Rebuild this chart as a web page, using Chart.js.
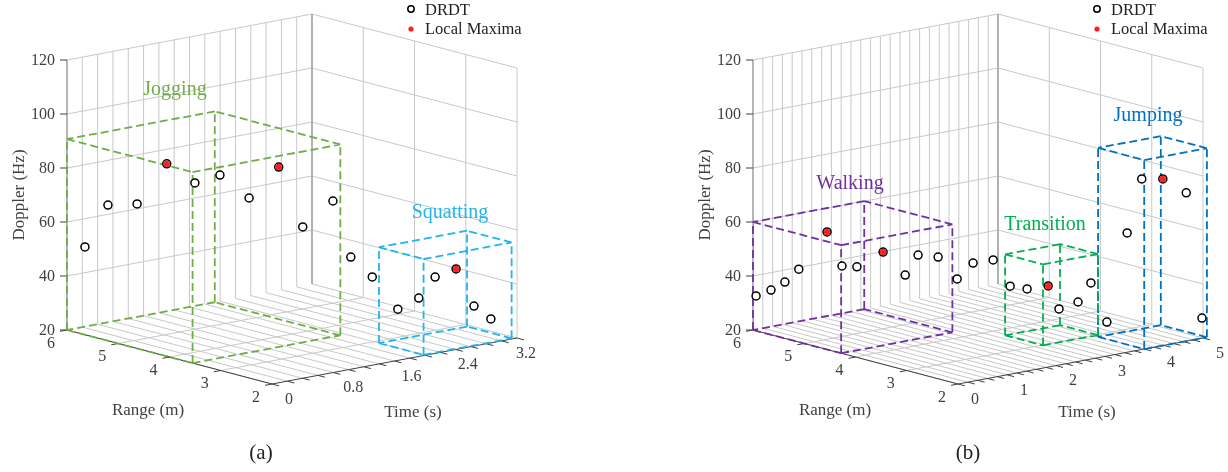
<!DOCTYPE html>
<html>
<head>
<meta charset="utf-8">
<title>DRDT</title>
<script src="https://cdn.jsdelivr.net/npm/chart.js@4"></script>
<style>
  html, body { margin: 0; padding: 0; background: #fff; }
  canvas { display: block; }
</style>
</head>
<body>
<canvas id="chart" width="1228" height="472"></canvas>
<script>
// panel (a)
const timeA = [0, 0.2, 0.4, 0.6, 0.8, 1.0, 1.2, 1.4, 1.6, 1.8, 2.0, 2.2, 2.4, 2.6, 2.8, 3.0, 3.1, 3.2]
const rangeA = [5.65, 5.5, 5.23, 4.95, 4.7, 4.51, 4.24, 3.96, 3.79, 3.5, 3.45, 3.33, 3.13, 3.02, 3.0, 2.89, 2.69, 2.51]
const dopplerA = [52.5, 67.7, 68.4, 83.6, 76.7, 79.5, 71.3, 83.1, 60.7, 70.7, 49.1, 41.3, 29.3, 32.9, 39.7, 42.2, 28.9, 24.5]
const maximaA = [3, 7, 15]
const timeTicksA = ['0', '0.8', '1.6', '2.4', '3.2']

// panel (b)
const timeB = [0, 0.2, 0.4, 0.6, 0.8, 1.0, 1.2, 1.4, 1.6, 1.8, 2.0, 2.2, 2.4, 2.6, 2.8, 3.0, 3.2, 3.4, 3.6, 3.8, 4.0, 4.1, 4.2, 4.4, 4.7, 5.0]
const rangeB = [5.94, 5.84, 5.76, 5.68, 5.32, 5.22, 5.12, 4.8, 4.56, 4.5, 4.3, 4.12, 4.0, 3.8, 3.66, 3.52, 3.3, 3.28, 3.1, 3.04, 2.92, 2.62, 2.43, 2.21, 2.04, 2.02]
const dopplerB = [32.9, 34.9, 37.6, 42.1, 57, 44.2, 43.7, 50.1, 42.1, 49.1, 48.7, 40.8, 46.6, 48.1, 38.4, 37.4, 38.9, 29.8, 32.6, 39.3, 24.7, 58.9, 79.5, 79.9, 74.6, 27.3]
const maximaB = [4, 7, 16, 23]
const timeTicksB = ['0', '1', '2', '3', '4', '5']

const dopplerTicks = [20, 40, 60, 80, 100, 120]
const rangeTicks = [6, 5, 4, 3, 2]

// activity boxes: [t0, t1, r0, r1, topDoppler]
const joggingBox = [0, 1.93, 6, 3.55, 90.7]
const squattingBox = [2.0, 3.15, 2.9, 2.03, 55.5]
const walkingBox = [0, 2.27, 6, 4.28, 60]
const transitionBox = [2.76, 3.88, 3.72, 2.98, 50]
const jumpingBox = [3.8, 5.08, 2.9, 2.0, 90]

const GRID = '#c8c8c8'
const TEXT = '#404040'
const SERIF = '"Liberation Serif", "Times New Roman", serif'

// hand fitted view of the matlab box, in canvas px
const view = { timeDx: 245, timeDy: -46, rangeDx: 205, rangeDy: 54, hz: 2.7, y0: 330 }

const panelA = {
    x0: 67, tMax: 3.2, tStep: 0.2, tickEvery: 4, tickLabelDx: [17, 20, 17, 12, 9],
    time: timeA, range: rangeA, doppler: dopplerA, maxima: maximaA, timeTicks: timeTicksA,
    rangeTitleX: 148, timeTitleX: 413, doppTitleX: 18, tag: '(a)', tagX: 261, legendX: 411,
    boxes: [
        { box: joggingBox, color: '#70ad47', name: 'Jogging', x: 175, y: 88 },
        { box: squattingBox, color: '#1fb4f0', name: 'Squatting', x: 450, y: 211 }
    ]
}
const panelB = {
    x0: 753, tMax: 5, tStep: 0.2, tickEvery: 5, tickLabelDx: [17, 17, 17, 17, 17, 17],
    time: timeB, range: rangeB, doppler: dopplerB, maxima: maximaB, timeTicks: timeTicksB,
    rangeTitleX: 835, timeTitleX: 1087, doppTitleX: 704, tag: '(b)', tagX: 968, legendX: 1097,
    boxes: [
        { box: walkingBox, color: '#7030a0', name: 'Walking', x: 850, y: 182 },
        { box: transitionBox, color: '#00b050', name: 'Transition', x: 1045, y: 223 },
        { box: jumpingBox, color: '#0070c0', name: 'Jumping', x: 1148, y: 114 }
    ]
}

const project = (p, t, r, z) => {
    const tf = t / p.tMax
    const rf = (6 - r) / 4
    return {
        x: p.x0 + view.timeDx * tf + view.rangeDx * rf,
        y: view.y0 + view.timeDy * tf + view.rangeDy * rf - view.hz * (z - 20)
    }
}

const GAP = { x: NaN, y: NaN }

const linesDataset = (segments, color, width, dash) => ({
    type: 'line',
    data: segments.flatMap(s => [s[0], s[1], GAP]),
    borderColor: color,
    borderWidth: width,
    borderDash: dash || [],
    pointRadius: 0,
    tension: 0,
    spanGaps: false,
    order: 10
})

const timeSteps = p => {
    const n = Math.round(p.tMax / p.tStep)
    return Array.from({ length: n + 1 }, (_, i) => i * p.tStep)
}

const gridSegments = p => {
    const segs = []
    timeSteps(p).forEach(t => {
        segs.push([project(p, t, 6, 20), project(p, t, 6, 120)])
        segs.push([project(p, t, 6, 20), project(p, t, 2, 20)])
    })
    rangeTicks.forEach(r => {
        segs.push([project(p, p.tMax, r, 20), project(p, p.tMax, r, 120)])
        if (r !== 6 && r !== 2) segs.push([project(p, 0, r, 20), project(p, p.tMax, r, 20)])
    })
    dopplerTicks.slice(1).forEach(z => {
        segs.push([project(p, 0, 6, z), project(p, p.tMax, 6, z)])
        segs.push([project(p, p.tMax, 6, z), project(p, p.tMax, 2, z)])
    })
    return segs
}

const axisSegments = p => {
    const segs = [
        [project(p, 0, 6, 20), project(p, 0, 2, 20)],
        [project(p, 0, 2, 20), project(p, p.tMax, 2, 20)]
    ]
    const dtLen = 7 / view.timeDx * p.tMax
    const drLen = 7 / view.rangeDx * 4
    rangeTicks.forEach(r => segs.push([project(p, 0, r, 20), project(p, -dtLen, r, 20)]))
    timeSteps(p).forEach(t => segs.push([project(p, t, 2, 20), project(p, t, 2 - drLen, 20)]))
    dopplerTicks.forEach(z => {
        const a = project(p, 0, 6, z)
        segs.push([a, { x: a.x - 7, y: a.y }])
    })
    return segs
}

const boxSegments = (p, b) => {
    const [t0, t1, r0, r1, top] = b
    const corners = [[t0, r0], [t0, r1], [t1, r1], [t1, r0]]
    const segs = []
    corners.forEach((c, i) => {
        const n = corners[(i + 1) % 4]
        segs.push([project(p, c[0], c[1], 20), project(p, n[0], n[1], 20)])
        segs.push([project(p, c[0], c[1], top), project(p, n[0], n[1], top)])
        segs.push([project(p, c[0], c[1], 20), project(p, c[0], c[1], top)])
    })
    return segs
}

const pointsOf = p => p.time.map((t, i) => project(p, t, p.range[i], p.doppler[i]))

const panelDatasets = p => {
    const pts = pointsOf(p)
    return [
        {
            type: 'scatter',
            data: p.maxima.map(i => pts[i]),
            pointRadius: 3.2,
            pointBorderWidth: 0,
            pointBackgroundColor: '#ff1f1f',
            order: 0
        },
        {
            type: 'scatter',
            data: pts,
            pointRadius: 4,
            pointBorderWidth: 1.5,
            pointBorderColor: '#000',
            pointBackgroundColor: '#fff',
            order: 1
        },
        ...p.boxes.map(b => ({ ...linesDataset(boxSegments(p, b.box), b.color, 1.8, [8, 4]), order: 2 })),
        { ...linesDataset(axisSegments(p), '#404040', 1), order: 3 },
        {
            ...linesDataset([[project(p, 0, 6, 20), project(p, 0, 6, 120)], [project(p, p.tMax, 6, 20), project(p, p.tMax, 6, 120)]], '#a6a6a6', 1.5),
            order: 4
        },
        linesDataset(gridSegments(p), GRID, 1)
    ]
}

const text = (ctx, str, x, y, size, color, align) => {
    ctx.font = size + 'px ' + SERIF
    ctx.fillStyle = color
    ctx.textAlign = align || 'center'
    ctx.textBaseline = 'middle'
    ctx.fillText(str, x, y + 1.5)
}

const panelText = {
    id: 'panelText',
    afterDatasetsDraw (chart) {
        const ctx = chart.ctx
        const sx = chart.scales.x
        const sy = chart.scales.y
        ctx.save()
        ;[panelA, panelB].forEach(p => {
            dopplerTicks.forEach(z => {
                const a = project(p, 0, 6, z)
                text(ctx, String(z), sx.getPixelForValue(a.x - 12), sy.getPixelForValue(a.y - 1), 16, TEXT, 'right')
            })
            rangeTicks.forEach(r => {
                const a = project(p, 0, r, 20)
                text(ctx, String(r), sx.getPixelForValue(a.x - 16), sy.getPixelForValue(a.y + 12), 16, TEXT)
            })
            p.timeTicks.forEach((label, i) => {
                const a = project(p, i * p.tStep * p.tickEvery, 2, 20)
                text(ctx, label, sx.getPixelForValue(a.x + p.tickLabelDx[i]), sy.getPixelForValue(a.y + 14), 16, TEXT)
            })
            text(ctx, 'Range (m)', p.rangeTitleX, 409, 17, TEXT)
            text(ctx, 'Time (s)', p.timeTitleX, 411, 17, TEXT)
            text(ctx, p.tag, p.tagX, 452, 21, '#222')

            ctx.save()
            ctx.translate(p.doppTitleX, 195)
            ctx.rotate(-Math.PI / 2)
            text(ctx, 'Doppler (Hz)', 0, 0, 17, TEXT)
            ctx.restore()

            p.boxes.forEach(b => text(ctx, b.name, b.x, b.y, 20, b.color))

            // legend
            ctx.beginPath()
            ctx.arc(p.legendX, 9, 3.2, 0, Math.PI * 2)
            ctx.strokeStyle = '#000'
            ctx.lineWidth = 1.5
            ctx.stroke()
            ctx.beginPath()
            ctx.arc(p.legendX, 29, 2.6, 0, Math.PI * 2)
            ctx.fillStyle = '#ff1f1f'
            ctx.fill()
            text(ctx, 'DRDT', p.legendX + 14, 9, 16.5, '#222', 'left')
            text(ctx, 'Local Maxima', p.legendX + 14, 28, 16.5, '#222', 'left')
        })
        ctx.restore()
    }
}

new Chart(document.getElementById('chart').getContext('2d'), {
    data: { datasets: [...panelDatasets(panelA), ...panelDatasets(panelB)] },
    options: {
        responsive: false,
        animation: false,
        layout: { padding: 0, autoPadding: false },
        plugins: { legend: { display: false }, tooltip: { enabled: false }, title: { display: false } },
        scales: {
            x: { type: 'linear', min: 0, max: 1228, display: false },
            y: { type: 'linear', min: 0, max: 472, reverse: true, display: false }
        }
    },
    plugins: [panelText]
})
</script>
</body>
</html>
